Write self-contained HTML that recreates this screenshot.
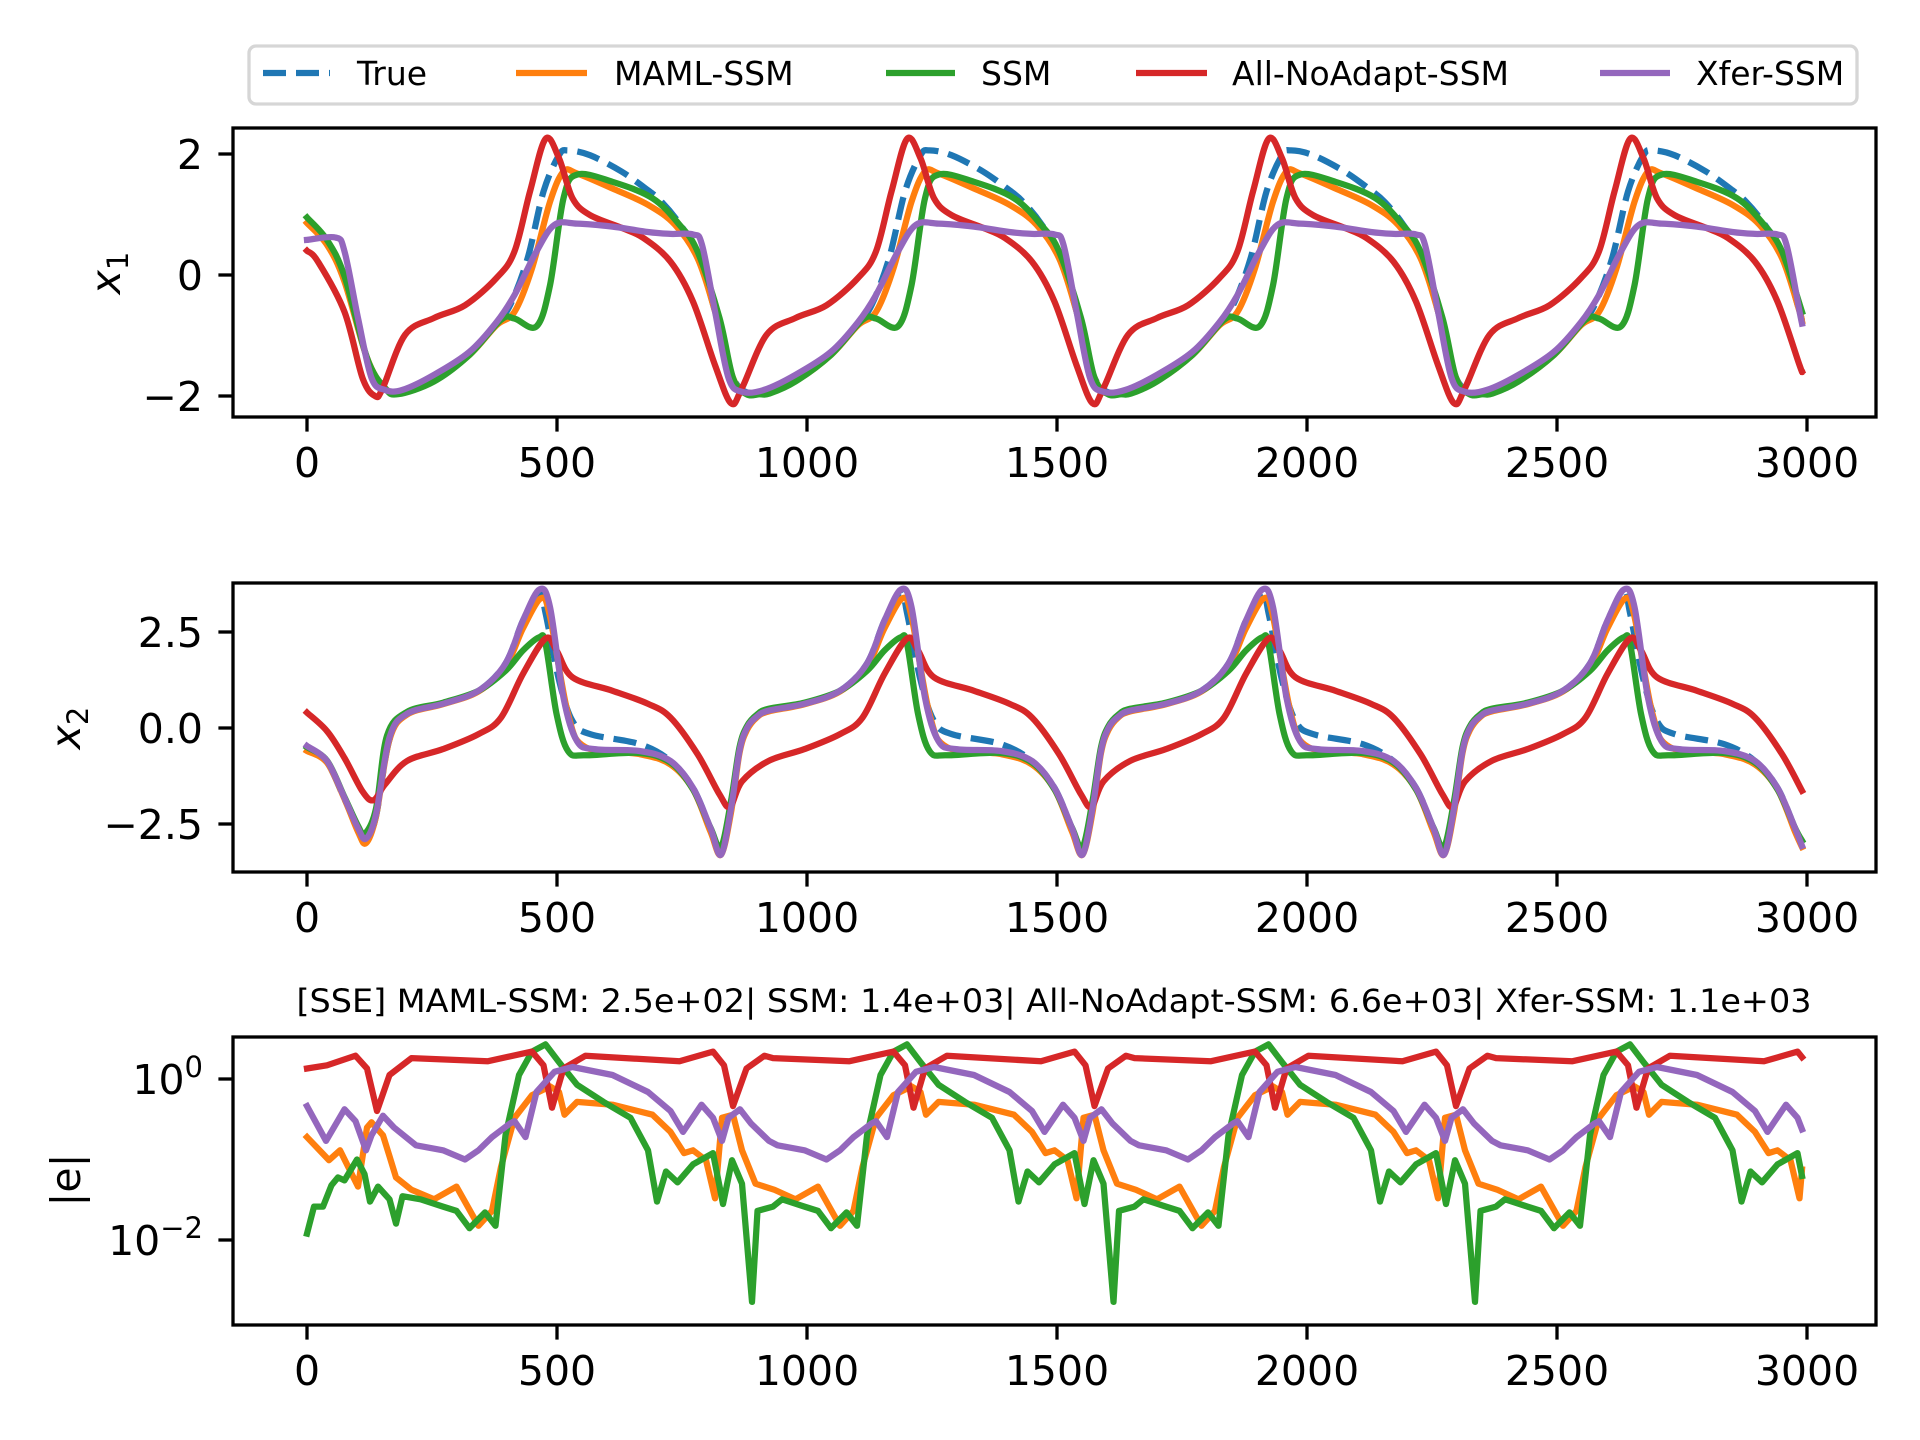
<!DOCTYPE html>
<html><head><meta charset="utf-8"><style>
html,body{margin:0;padding:0;background:#fff;}
svg{display:block;font-family:"DejaVu Sans","Liberation Sans",sans-serif;}
</style></head><body>
<svg id="fig" width="1920" height="1440" viewBox="0 0 1920 1440" xmlns="http://www.w3.org/2000/svg">
<rect width="1920" height="1440" fill="#fff"/>
<g id="legend">
<rect x="249" y="46" width="1608" height="58" rx="7" fill="#fff" stroke="#d6d6d6" stroke-width="3.3"/>
<g><line x1="263" y1="73" x2="330" y2="73" stroke="#1f77b4" stroke-width="6.25" stroke-dasharray="23,10"/><text x="357" y="85" font-size="33">True</text></g>
<g><line x1="516" y1="73" x2="587" y2="73" stroke="#ff7f0e" stroke-width="6.25"/><text x="614" y="85" font-size="33">MAML-SSM</text></g>
<g><line x1="886" y1="73" x2="955" y2="73" stroke="#2ca02c" stroke-width="6.25"/><text x="981" y="85" font-size="33">SSM</text></g>
<g><line x1="1136" y1="73" x2="1207" y2="73" stroke="#d62728" stroke-width="6.25"/><text x="1232" y="85" font-size="33">All-NoAdapt-SSM</text></g>
<g><line x1="1600" y1="73" x2="1670" y2="73" stroke="#9467bd" stroke-width="6.25"/><text x="1696" y="85" font-size="33">Xfer-SSM</text></g>
</g>
<text x="1054" y="1012" font-size="32" text-anchor="middle" textLength="1515" lengthAdjust="spacingAndGlyphs">[SSE] MAML-SSM: 2.5e+02| SSM: 1.4e+03| All-NoAdapt-SSM: 6.6e+03| Xfer-SSM: 1.1e+03</text>
</svg>
<script>
const period = 723;
const tEnd = 2990;
const xTicks = [0, 500, 1000, 1500, 2000, 2500, 3000];
const x1Ticks = [-2, 0, 2];
const x1TickLabels = ["\u22122", "0", "2"];
const x2Ticks = [-2.5, 0, 2.5];
const x2TickLabels = ["\u22122.5", "0.0", "2.5"];
const errTickExps = [0, -2];

// panel 1: x1
const trueX1T = [0,40,75,120,156,191,254,325,379,406,441,473,504,522,566,629,682,709,745,781,816,843,870,914];
const trueX1V = [0.9,0.54,-0.06,-1.37,-1.88,-1.93,-1.74,-1.3,-0.8,-0.5,0.27,1.38,1.98,2.06,1.98,1.71,1.40,1.21,0.85,0.35,-0.6,-1.5,-1.9,-1.93];
const mamlX1T = [0,40,75,120,156,191,254,325,379,415,450,486,513,540,611,682,736,781,816,843,870,914];
const mamlX1V = [0.86,0.5,-0.11,-1.37,-1.87,-1.93,-1.75,-1.32,-0.83,-0.61,0.11,1.21,1.71,1.68,1.43,1.16,0.83,0.28,-0.6,-1.49,-1.93,-1.93];
const ssmX1T = [0,40,75,120,156,182,254,325,388,415,459,486,513,540,611,691,745,781,825,852,879,905,925];
const ssmX1V = [0.95,0.58,-0.02,-1.37,-1.87,-1.97,-1.76,-1.32,-0.74,-0.72,-0.85,-0.17,1.27,1.66,1.54,1.27,0.83,0.39,-0.71,-1.70,-1.97,-1.97,-1.96];
const allX1T = [0,22,75,111,136,151,196,254,316,379,415,446,477,504,531,566,629,673,727,772,816,848,870,919];
const allX1V = [0.40,0.22,-0.61,-1.70,-2.0,-1.88,-0.99,-0.71,-0.50,-0.05,0.39,1.38,2.25,1.93,1.27,0.99,0.78,0.61,0.22,-0.44,-1.49,-2.12,-1.87,-0.99];
const xferX1T = [0,57,75,102,129,156,191,254,325,379,415,459,495,540,611,682,727,772,790,816,843,870,914];
const xferX1V = [0.58,0.62,0.39,-0.71,-1.70,-1.90,-1.90,-1.65,-1.27,-0.78,-0.33,0.39,0.83,0.85,0.80,0.71,0.68,0.67,0.50,-0.6,-1.70,-1.93,-1.90];

// panel 2: x2
const trueX2T = [0,40,75,102,118,138,165,200,272,343,397,432,465,477,504,531,566,665,727,772,807,828,848,865,880,900,923];
const trueX2V = [-0.55,-0.9,-1.85,-2.65,-2.95,-2.3,-0.3,0.37,0.63,0.97,1.68,2.8,3.55,3.0,1.25,0.18,-0.16,-0.42,-0.86,-1.56,-2.61,-3.2,-2.1,-0.6,0.0,0.3,0.45];
const mamlX2T = [0,40,75,102,118,138,165,200,272,343,397,432,468,486,522,557,665,727,772,807,828,848,865,880,900,923];
const mamlX2V = [-0.6,-0.9,-1.85,-2.7,-3.0,-2.3,-0.3,0.35,0.62,0.95,1.6,2.6,3.38,2.9,0.37,-0.5,-0.68,-0.95,-1.6,-2.7,-3.3,-2.2,-0.65,-0.05,0.28,0.43];
const ssmX2T = [0,40,75,102,116,138,160,200,272,343,397,432,464,477,499,522,557,665,727,772,807,828,848,865,880,900,923];
const ssmX2V = [-0.5,-0.85,-1.8,-2.55,-2.75,-2.1,-0.2,0.42,0.66,0.97,1.49,2.02,2.36,2.2,0.37,-0.6,-0.71,-0.65,-0.9,-1.6,-2.6,-3.1,-1.9,-0.5,0.05,0.35,0.5];
const allX2T = [0,40,75,111,133,156,200,272,343,388,432,477,499,531,611,682,727,781,825,846,870,923];
const allX2V = [0.40,-0.08,-0.78,-1.65,-1.88,-1.47,-0.86,-0.55,-0.16,0.27,1.41,2.33,2.02,1.32,0.97,0.63,0.27,-0.68,-1.73,-2.05,-1.39,-0.86];
const xferX2T = [0,40,75,102,118,138,165,200,272,343,397,432,465,486,513,540,575,665,727,772,807,828,848,865,880,900,923];
const xferX2V = [-0.47,-0.86,-1.82,-2.61,-2.88,-2.25,-0.25,0.37,0.63,0.97,1.68,2.80,3.61,3.15,0.79,-0.34,-0.55,-0.60,-0.86,-1.56,-2.61,-3.3,-2.1,-0.6,0.0,0.3,0.45];

// panel 3: |e|
const mamlErrT = [0,44,66,102,120,129,152,165,178,209,254,299,343,370,388,415,450,486,504,515,540,611,691,727,754,772,798,816,830,852,870,897,935];
const mamlErrV = [0.19,0.098,0.13,0.046,0.25,0.29,0.20,0.11,0.060,0.042,0.032,0.046,0.015,0.023,0.081,0.33,0.63,0.81,0.69,0.36,0.52,0.48,0.36,0.22,0.12,0.13,0.098,0.033,0.33,0.36,0.13,0.050,0.042];
const ssmErrT = [0,14,32,49,62,75,100,115,126,142,165,178,191,227,272,299,325,356,377,397,424,450,477,504,540,593,647,682,700,718,741,772,812,832,850,870,890,901,932];
const ssmErrV = [0.012,0.026,0.026,0.048,0.060,0.055,0.10,0.066,0.030,0.046,0.032,0.016,0.035,0.032,0.026,0.023,0.014,0.022,0.015,0.20,1.12,2.19,2.69,1.62,0.85,0.52,0.33,0.13,0.030,0.071,0.052,0.087,0.12,0.028,0.098,0.050,0.0017,0.023,0.026];
const allErrT = [0,40,97,120,140,165,209,361,450,473,490,513,557,745,812,834,852,879,915];
const allErrV = [1.35,1.48,1.95,1.35,0.40,1.12,1.82,1.66,2.19,1.48,0.44,1.35,1.95,1.66,2.19,1.48,0.46,1.35,1.95];
const xferErrT = [0,38,75,97,118,129,152,174,218,272,316,343,370,406,415,437,459,495,531,611,682,727,752,789,812,830,843,866,888,924];
const xferErrV = [0.46,0.17,0.42,0.30,0.13,0.20,0.35,0.25,0.15,0.13,0.10,0.13,0.19,0.28,0.30,0.19,0.69,1.23,1.41,1.12,0.69,0.40,0.22,0.48,0.33,0.17,0.33,0.42,0.28,0.17];

const NS = "http://www.w3.org/2000/svg";
const svg = document.getElementById('fig');
const AX_L = 233, AX_R = 1876;
const xScale = t => 307 + t * 0.5;
const panels = [
  {name:'x1', top:128, bottom:417, y:v => 275 - v * 60.5},
  {name:'x2', top:583, bottom:872, y:v => 728 - v * 38.4},
  {name:'err', top:1037, bottom:1325, y:v => 1079 - Math.log10(v) * 80.5}
];
const COLORS = {true:'#1f77b4', maml:'#ff7f0e', ssm:'#2ca02c', all:'#d62728', xfer:'#9467bd'};

function mk(tag, attrs, parent){
  const e = document.createElementNS(NS, tag);
  for (const k in attrs) e.setAttribute(k, attrs[k]);
  (parent || svg).appendChild(e);
  return e;
}
function tile(T, V, isLog){
  const all = []; let last = -Infinity;
  for (let k = 0; k < 6; k++){
    for (let i = 0; i < T.length; i++){
      const X = T[i] + k * period;
      if (X > last){ all.push([X, V[i]]); last = X; }
    }
  }
  const pts = [];
  for (let i = 0; i < all.length; i++){
    if (all[i][0] <= tEnd) pts.push(all[i]);
    else {
      const a = all[i-1], b = all[i], f = (tEnd - a[0]) / (b[0] - a[0]);
      const v = isLog ? Math.pow(10, Math.log10(a[1]) + f*(Math.log10(b[1]) - Math.log10(a[1]))) : a[1] + f*(b[1]-a[1]);
      pts.push([tEnd, v]);
      break;
    }
  }
  return pts;
}
function smoothPath(p){
  let d = 'M' + p[0][0].toFixed(1) + ',' + p[0][1].toFixed(1);
  for (let i = 0; i < p.length - 1; i++){
    const p0 = p[Math.max(0,i-1)], p1 = p[i], p2 = p[i+1], p3 = p[Math.min(p.length-1,i+2)];
    const c1x = p1[0] + (p2[0]-p0[0])/6, c1y = p1[1] + (p2[1]-p0[1])/6;
    const c2x = p2[0] - (p3[0]-p1[0])/6, c2y = p2[1] - (p3[1]-p1[1])/6;
    d += 'C' + c1x.toFixed(1)+','+c1y.toFixed(1)+' '+c2x.toFixed(1)+','+c2y.toFixed(1)+' '+p2[0].toFixed(1)+','+p2[1].toFixed(1);
  }
  return d;
}
function linePath(p){
  return p.map((q,i)=>(i?'L':'M')+q[0].toFixed(1)+','+q[1].toFixed(1)).join('');
}

const seriesByPanel = [
  [['true',trueX1T,trueX1V],['maml',mamlX1T,mamlX1V],['ssm',ssmX1T,ssmX1V],['all',allX1T,allX1V],['xfer',xferX1T,xferX1V]],
  [['true',trueX2T,trueX2V],['maml',mamlX2T,mamlX2V],['ssm',ssmX2T,ssmX2V],['all',allX2T,allX2V],['xfer',xferX2T,xferX2V]],
  [['maml',mamlErrT,mamlErrV],['ssm',ssmErrT,ssmErrV],['all',allErrT,allErrV],['xfer',xferErrT,xferErrV]]
];

const defs = mk('defs', {});
panels.forEach((P, pi) => {
  const cp = mk('clipPath', {id:'clip'+pi}, defs);
  mk('rect', {x:AX_L, y:P.top, width:AX_R-AX_L, height:P.bottom-P.top}, cp);
  const g = mk('g', {'clip-path':'url(#clip'+pi+')'});
  
  
  seriesByPanel[pi].forEach(([key, T, V]) => {
    const pts = tile(T, V, pi === 2).map(([t, v]) => [xScale(t), P.y(v)]);
    const path = mk('path', {d: pi === 2 ? linePath(pts) : smoothPath(pts), fill:'none', stroke:COLORS[key], 'stroke-width':6.25, 'stroke-linejoin':'round', 'stroke-linecap':'square'}, g);
    if (key === 'true'){ path.setAttribute('stroke-dasharray', '23,10'); path.setAttribute('stroke-linecap', 'butt'); }
    
    
  });
  const frame = mk('rect', {x:AX_L, y:P.top, width:AX_R-AX_L, height:P.bottom-P.top, fill:'none', stroke:'#000', 'stroke-width':3.3});
  
  
  xTicks.forEach(t => {
    const x = xScale(t);
    const tk = mk('line', {x1:x, y1:P.bottom, x2:x, y2:P.bottom+14.6, stroke:'#000', 'stroke-width':3.3});
    
    
    const lb = mk('text', {x:x, y:P.bottom+60, 'font-size':41, 'text-anchor':'middle'});
    lb.textContent = String(t);
    
    
  });
});

function yTick(P, v){
  const y = P.y(v);
  const tk = mk('line', {x1:AX_L-14.6, y1:y, x2:AX_L, y2:y, stroke:'#000', 'stroke-width':3.3});
  
  
}
x1Ticks.forEach((v, i) => {
  yTick(panels[0], v);
  const lb = mk('text', {x:203, y:panels[0].y(v)+15, 'font-size':41, 'text-anchor':'end'});
  lb.textContent = x1TickLabels[i];
  
  
});
x2Ticks.forEach((v, i) => {
  yTick(panels[1], v);
  const lb = mk('text', {x:203, y:panels[1].y(v)+15, 'font-size':41, 'text-anchor':'end'});
  lb.textContent = x2TickLabels[i];
  
  
});
errTickExps.forEach((e) => {
  const v = Math.pow(10, e);
  yTick(panels[2], v);
  const y = panels[2].y(v);
  const lb = mk('text', {x:203, y:y+15, 'font-size':41, 'text-anchor':'end'});
  
  
  const base = mk('tspan', {}, lb); base.textContent = '10';
  const sup = mk('tspan', {'font-size':29, dy:-17}, lb); sup.textContent = e < 0 ? '\u2212' + (-e) : String(e);
});

function yLabel(x, y, name, build){
  const t = mk('text', {x:x, y:y, 'font-size':41, 'text-anchor':'middle', transform:'rotate(-90 '+x+' '+y+')'});
  
  
  build(t);
}
yLabel(120, 273, 'y-axis-title-x1', t => {
  const a = mk('tspan', {'font-style':'italic'}, t); a.textContent = 'x';
  const b = mk('tspan', {'font-size':29, dy:8}, t); b.textContent = '1';
});
yLabel(80, 728, 'y-axis-title-x2', t => {
  const a = mk('tspan', {'font-style':'italic'}, t); a.textContent = 'x';
  const b = mk('tspan', {'font-size':29, dy:8}, t); b.textContent = '2';
});
yLabel(80, 1180, 'y-axis-title-err', t => { t.textContent = '|e|'; });
</script>
</body></html>
